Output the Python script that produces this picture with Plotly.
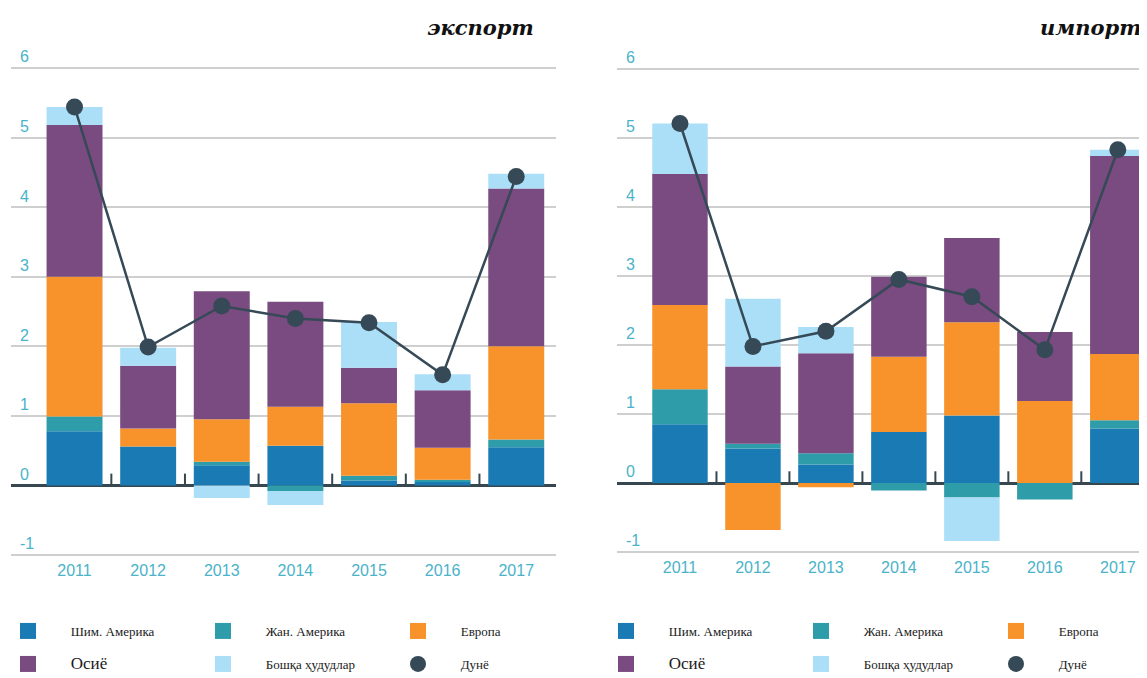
import plotly.graph_objects as go

# ---------------- data ----------------
years = ["2011", "2012", "2013", "2014", "2015", "2016", "2017"]
region_names = ["Шим. Америка", "Жан. Америка", "Европа", "Осиё", "Бошқа ҳудудлар"]
world_name = "Дунё"
y_ticks = [-1, 0, 1, 2, 3, 4, 5, 6]
titles = ["экспорт", "импорт"]

# export (left panel)
exp_north_america = [0.78, 0.56, 0.29, 0.57, 0.07, 0.05, 0.55]
exp_south_america = [0.21, 0.00, 0.05, -0.08, 0.07, 0.03, 0.11]
exp_europe = [2.01, 0.26, 0.61, 0.56, 1.04, 0.46, 1.34]
exp_asia = [2.18, 0.90, 1.84, 1.51, 0.51, 0.83, 2.27]
exp_other = [0.26, 0.26, -0.18, -0.20, 0.66, 0.23, 0.21]
exp_world = [5.44, 1.99, 2.58, 2.40, 2.34, 1.59, 4.44]

# import (right panel)
imp_north_america = [0.85, 0.50, 0.27, 0.74, 0.98, 0.00, 0.79]
imp_south_america = [0.51, 0.07, 0.16, -0.11, -0.21, -0.24, 0.12]
imp_europe = [1.22, -0.68, -0.06, 1.09, 1.35, 1.19, 0.96]
imp_asia = [1.90, 1.12, 1.45, 1.16, 1.22, 1.00, 2.87]
imp_other = [0.73, 0.98, 0.38, 0.00, -0.63, 0.00, 0.09]
imp_world = [5.21, 1.98, 2.20, 2.95, 2.70, 1.93, 4.83]

# ---------------- style ----------------
colors = ["#1a7ab4", "#2e9ca9", "#f7932a", "#7a4b80", "#abdff8"]
world_color = "#354956"
label_color = "#4ab3c9"
grid_color = "#cfcfcf"
zero_color = "#37474f"

# the page body keeps an 8px default margin; size the figure to fill the rest of the window
OFF = 8
FW, FH = 1147 - OFF, 678 - OFF


def px2x(px):
    return (px - OFF) / FW


def py2y(py):
    return 1 - (py - OFF) / FH


PAD = "\u00a0" * 7  # gap between legend symbol and text
xpos = list(range(len(years)))
boundaries_x, boundaries_y = [], []
for i in range(len(years) - 1):
    boundaries_x += [i + 0.5, i + 0.5, None]
    boundaries_y += [0, 0.17, None]

fig = go.Figure()

panels = [
    ("x", "y", [exp_north_america, exp_south_america, exp_europe, exp_asia, exp_other], exp_world, ("legend", "legend2")),
    ("x2", "y2", [imp_north_america, imp_south_america, imp_europe, imp_asia, imp_other], imp_world, ("legend3", "legend4")),
]

for xa, ya, series, world, legs in panels:
    for name, vals, col in zip(region_names, series, colors):
        fig.add_trace(go.Bar(x=xpos, y=vals, name=name, marker=dict(color=col, line=dict(width=0)),
                             width=0.76, xaxis=xa, yaxis=ya, showlegend=False))
    fig.add_trace(go.Scatter(x=boundaries_x, y=boundaries_y, mode="lines",
                             line=dict(color=zero_color, width=2), xaxis=xa, yaxis=ya,
                             showlegend=False, hoverinfo="skip"))
    fig.add_trace(go.Scatter(x=xpos, y=world, name=world_name, mode="lines+markers",
                             line=dict(color=world_color, width=2.5),
                             marker=dict(color=world_color, size=17),
                             xaxis=xa, yaxis=ya, showlegend=False))
    # legend-only entries
    legend_items = list(zip(region_names, colors, ["square"] * 5)) + [(world_name, world_color, "circle")]
    for k, (name, col, sym) in enumerate(legend_items):
        label = PAD + name
        if name == "Осиё":
            label = PAD + '<span style="font-size:17px">Осиё</span>'
        fig.add_trace(go.Scatter(x=[None], y=[None], mode="markers", name=label,
                                 marker=dict(symbol=sym, size=16, color=col),
                                 xaxis=xa, yaxis=ya, legend=legs[0] if k < 3 else legs[1],
                                 showlegend=True, hoverinfo="skip"))

common_x = dict(tickvals=xpos, ticktext=years, showgrid=False, zeroline=False, ticks="",
                tickfont=dict(family="Liberation Sans, Arial", size=16, color=label_color),
                ticklabelstandoff=3, showline=False, fixedrange=True)
common_y = dict(tickvals=y_ticks, ticktext=[str(v) for v in y_ticks], showgrid=True,
                gridcolor=grid_color, gridwidth=1.5, zeroline=True, zerolinecolor=zero_color,
                zerolinewidth=2.5, ticks="", ticklabelposition="inside top", ticklabelstandoff=6,
                tickfont=dict(family="Liberation Sans, Arial", size=16, color=label_color),
                range=[-1.02, 6.4], showline=False, fixedrange=True)

fig.update_layout(
    width=FW, height=FH, autosize=False,
    margin=dict(l=0, r=0, t=0, b=0, autoexpand=False),
    paper_bgcolor="white", plot_bgcolor="white",
    barmode="relative",
    xaxis=dict(common_x, domain=[px2x(11), px2x(556)], range=[-0.863, 6.54], anchor="y"),
    yaxis=dict(common_y, domain=[py2y(556.4), py2y(40.2)], anchor="x"),
    xaxis2=dict(common_x, domain=[px2x(617), 1.0], range=[-0.863, 6.40], anchor="y2"),
    yaxis2=dict(common_y, domain=[py2y(553.4), py2y(41.4)], anchor="x2"),
)

leg_common = dict(orientation="h", itemwidth=30, entrywidth=150, itemsizing="trace",
                  font=dict(family="Liberation Serif, Times New Roman", size=13, color="#1a1a1a"),
                  bgcolor="rgba(0,0,0,0)", xanchor="left", yanchor="middle", traceorder="normal")
fig.update_layout(
    legend=dict(leg_common, x=0, y=py2y(631)),
    legend2=dict(leg_common, x=0, y=py2y(664)),
    legend3=dict(leg_common, x=px2x(606), y=py2y(631)),
    legend4=dict(leg_common, x=px2x(606), y=py2y(664)),
)

fig.add_annotation(text="<b><i>" + titles[0] + "</i></b>", xref="paper", yref="paper",
                   x=px2x(536), y=py2y(28), xanchor="right", yanchor="middle", showarrow=False,
                   font=dict(family="DejaVu Serif", size=21, color="#111111"))
fig.add_annotation(text="<b><i>" + titles[1] + "</i></b>", xref="paper", yref="paper",
                   x=px2x(1143), y=py2y(28), xanchor="right", yanchor="middle", showarrow=False,
                   font=dict(family="DejaVu Serif", size=21, color="#111111"))

fig.write_html("out.html")
